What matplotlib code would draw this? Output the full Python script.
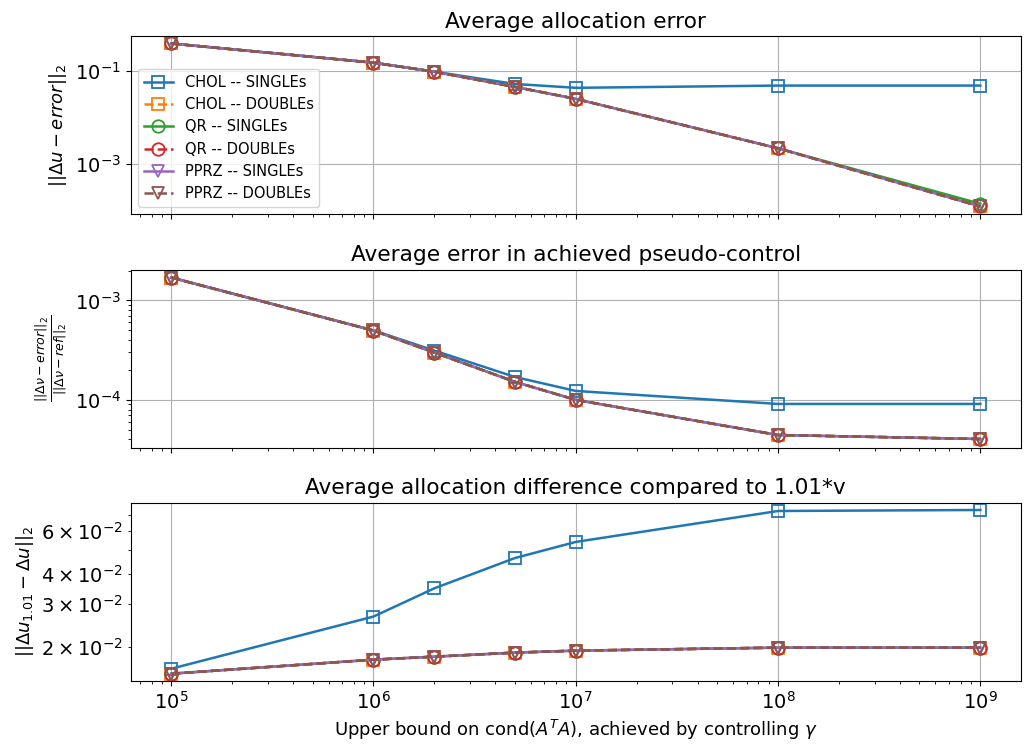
import matplotlib
matplotlib.use("Agg")
import matplotlib.pyplot as plt
import matplotlib.ticker as mticker

plt.rcParams["font.size"] = 13

# upper bound on cond(A^T A)
cond = [1e5, 1e6, 2e6, 5e6, 1e7, 1e8, 1e9]

labels = ["CHOL -- SINGLEs", "CHOL -- DOUBLEs", "QR -- SINGLEs",
          "QR -- DOUBLEs", "PPRZ -- SINGLEs", "PPRZ -- DOUBLEs"]
markers = ["s", "s", "o", "o", "v", "v"]
styles = ["-", "--", "-", "--", "-", "--"]

# average allocation error
alloc_chol_s = [0.38, 0.148, 0.095, 0.052, 0.043, 0.048, 0.048]
alloc_other = [0.38, 0.148, 0.095, 0.045, 0.025, 0.0022, 1.26e-4]
alloc_qr_s = [0.38, 0.148, 0.095, 0.045, 0.025, 0.0022, 1.44e-4]

# average error in achieved pseudo-control
pseudo_chol_s = [1.7e-3, 5.0e-4, 3.13e-4, 1.70e-4, 1.23e-4, 9.1e-5, 9.1e-5]
pseudo_other = [1.7e-3, 4.98e-4, 2.99e-4, 1.52e-4, 1.0e-4, 4.43e-5, 4.04e-5]

# average allocation difference compared to 1.01*v
diff_chol_s = [0.0162, 0.0266, 0.0348, 0.0464, 0.0541, 0.0726, 0.0733]
diff_other = [0.01545, 0.01766, 0.01817, 0.01888, 0.01924, 0.0198, 0.0198]

alloc = [alloc_chol_s, alloc_other, alloc_qr_s, alloc_other, alloc_other, alloc_other]
pseudo = [pseudo_chol_s] + [pseudo_other] * 5
diff = [diff_chol_s] + [diff_other] * 5

fig, axes = plt.subplots(3, 1, figsize=(10.29, 7.44), dpi=100, sharex=True)
fig.subplots_adjust(left=0.127, right=0.992, top=0.951, bottom=0.085, hspace=0.31)

panels = [
    (alloc, "Average allocation error", r"$||\Delta u - error||_2$"),
    (pseudo, "Average error in achieved pseudo-control",
     r"$\frac{||\Delta \nu - error||_2}{||\Delta \nu - ref||_2}$"),
    (diff, "Average allocation difference compared to 1.01*v",
     r"$||\Delta u_{1.01} - \Delta u||_2$"),
]

for ax, (series, title, ylab) in zip(axes, panels):
    for i, ys in enumerate(series):
        ax.plot(cond, ys, color=f"C{i}", linestyle=styles[i], marker=markers[i],
                markersize=9, fillstyle="none", markeredgewidth=1.3,
                linewidth=1.8, label=labels[i])
    ax.set_xscale("log")
    ax.set_yscale("log")
    ax.set_title(title)
    ax.set_ylabel(ylab)
    ax.tick_params(which="both", labelsize=14)
    ax.grid(True)

axes[0].set_ylim(10**-4.07, 10**-0.27)
axes[0].yaxis.set_major_locator(mticker.FixedLocator([1e-1, 1e-3]))
axes[0].yaxis.set_minor_locator(mticker.NullLocator())
axes[1].set_ylim(10**-4.48, 10**-2.69)
axes[2].set_ylim(0.01445, 0.0785)
axes[0].legend(loc="lower left", fontsize=10.5)
axes[2].set_xlabel(r"Upper bound on cond($A^TA$), achieved by controlling $\gamma$")

plt.savefig("out.png", dpi=100)
